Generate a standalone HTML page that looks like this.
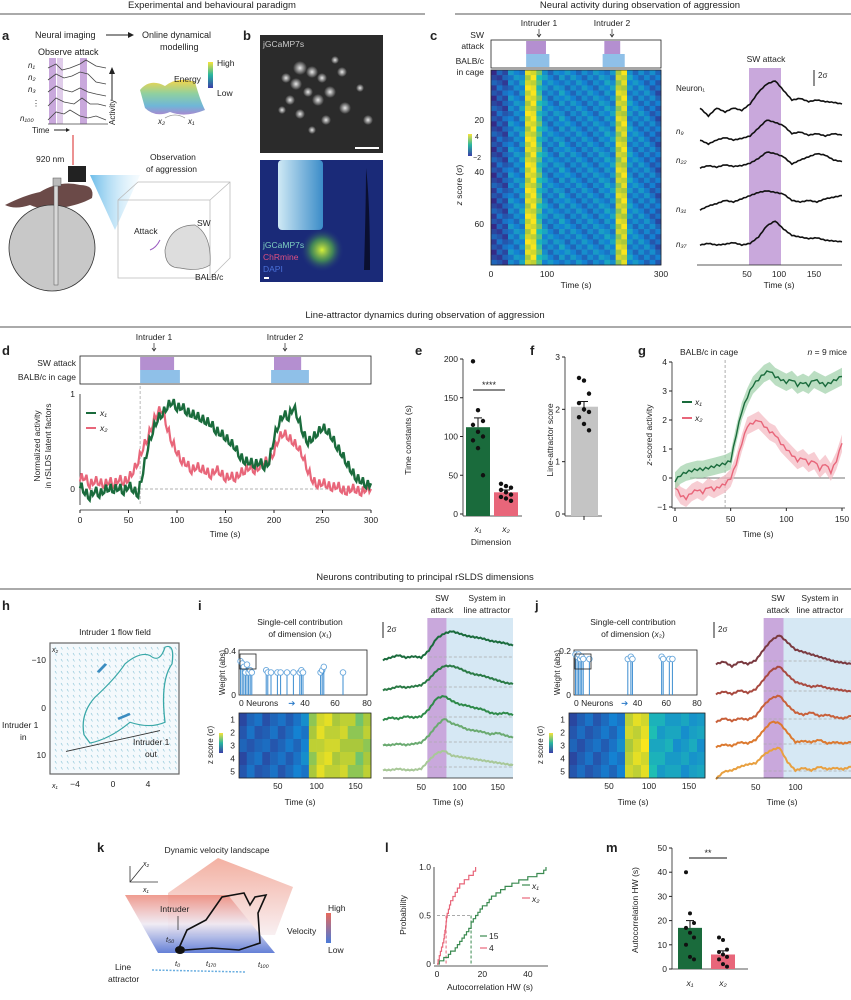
<!DOCTYPE html>
<html><head><meta charset="utf-8"><style>
html,body{margin:0;padding:0;background:#fff}
svg{display:block;font-family:"Liberation Sans",sans-serif}
text{fill:#222}
</style></head><body>
<svg id="fig" width="851" height="1000" viewBox="0 0 851 1000" xmlns="http://www.w3.org/2000/svg">
<defs>
<linearGradient id="energy" x1="0" y1="0" x2="0" y2="1"><stop offset="0" stop-color="#f5d548"/><stop offset="0.4" stop-color="#8fd0a0"/><stop offset="0.75" stop-color="#6fb6d8"/><stop offset="1" stop-color="#a78ad0"/></linearGradient>
<linearGradient id="cbar" x1="0" y1="0" x2="0" y2="1"><stop offset="0" stop-color="#f7e33a"/><stop offset="0.5" stop-color="#27b5a0"/><stop offset="1" stop-color="#3b3ea8"/></linearGradient>
<linearGradient id="probe" x1="0" y1="0" x2="1" y2="0"><stop offset="0" stop-color="#cfe9f5"/><stop offset="1" stop-color="#3b8cc8"/></linearGradient>
<linearGradient id="vel" x1="0" y1="0" x2="0" y2="1"><stop offset="0" stop-color="#f2a898"/><stop offset="1" stop-color="#f8eef0"/></linearGradient>
<linearGradient id="vel2" x1="0" y1="0" x2="0" y2="1"><stop offset="0" stop-color="#ec8a7c"/><stop offset="0.5" stop-color="#eee8f2"/><stop offset="1" stop-color="#4a6ad0"/></linearGradient>
<linearGradient id="vel3" x1="0" y1="0" x2="0" y2="1"><stop offset="0" stop-color="#e76a5c"/><stop offset="1" stop-color="#4a7ad8"/></linearGradient>
<radialGradient id="cell"><stop offset="0" stop-color="#e8e8e8"/><stop offset="1" stop-color="#e8e8e8" stop-opacity="0"/></radialGradient>
<radialGradient id="glow"><stop offset="0" stop-color="#d6f03a"/><stop offset="0.5" stop-color="#4a9a50" stop-opacity="0.8"/><stop offset="1" stop-color="#1e2a80" stop-opacity="0"/></radialGradient>
<linearGradient id="beam" x1="0" y1="0" x2="1" y2="0"><stop offset="0" stop-color="#2fa0e0"/><stop offset="1" stop-color="#bfe6fa" stop-opacity="0.2"/></linearGradient>
</defs>

<!-- Section headers -->
<text x="212" y="8" font-size="9.5" text-anchor="middle">Experimental and behavioural paradigm</text>
<line x1="0" y1="14" x2="425" y2="14" stroke="#555" stroke-width="1"/>
<text x="640" y="8" font-size="9.5" text-anchor="middle">Neural activity during observation of aggression</text>
<line x1="455" y1="14" x2="851" y2="14" stroke="#555" stroke-width="1"/>
<text x="425" y="318" font-size="9.5" text-anchor="middle">Line-attractor dynamics during observation of aggression</text>
<line x1="0" y1="327" x2="851" y2="327" stroke="#555" stroke-width="1"/>
<text x="425" y="580" font-size="9.5" text-anchor="middle">Neurons contributing to principal rSLDS dimensions</text>
<line x1="0" y1="589" x2="851" y2="589" stroke="#555" stroke-width="1"/>

<!-- Panel a -->
<g>
<text x="2" y="40" font-size="13" font-weight="bold" fill="#000">a</text>
<text x="35" y="38" font-size="9">Neural imaging</text>
<line x1="106" y1="35" x2="128" y2="35" stroke="#222"/><path d="M128 32 L134 35 L128 38Z" fill="#222"/>
<text x="142" y="38" font-size="9">Online dynamical</text>
<text x="160" y="50" font-size="9">modelling</text>
<text x="38" y="55" font-size="9">Observe attack</text>
<rect x="49" y="58" width="7" height="66" fill="#c9a8dc"/><rect x="57" y="58" width="6" height="66" fill="#e0cdea"/><rect x="80" y="58" width="7" height="66" fill="#c9a8dc"/>
<g fill="none" stroke="#444" stroke-width="0.8">
<path d="M48 68 L56 64 62 70 70 68 80 64 86 60 96 66 106 68"/>
<path d="M48 80 L56 74 64 78 72 76 80 72 88 74 96 82 106 84"/>
<path d="M48 92 L56 86 64 90 72 92 80 88 88 92 96 94 106 96"/>
<path d="M48 106 L56 98 64 102 74 104 82 98 90 104 98 104 106 106"/>
<path d="M48 120 L56 112 64 114 70 110 80 116 88 118 96 116 106 120"/>
<path d="M48 124 L108 124"/>
</g>
<text x="28" y="68" font-size="8" font-style="italic">n₁</text>
<text x="28" y="80" font-size="8" font-style="italic">n₂</text>
<text x="28" y="92" font-size="8" font-style="italic">n₃</text>
<text x="32" y="106" font-size="8">⋮</text>
<text x="20" y="121" font-size="8" font-style="italic">n₁₀₀</text>
<text x="32" y="133" font-size="8">Time</text><line x1="54" y1="130" x2="66" y2="130" stroke="#222"/><path d="M66 128 L70 130 L66 132Z" fill="#222"/>
<text x="115" y="125" font-size="8" transform="rotate(-90 115 125)">Activity</text>
<line x1="112" y1="100" x2="112" y2="72" stroke="#222"/><path d="M109 74 L112 67 L115 74Z" fill="#222"/>
<path d="M140 90 Q150 78 165 86 Q178 76 195 82 Q200 100 205 110 Q185 118 170 112 Q155 118 145 108 Z" fill="url(#energy)"/>
<text x="174" y="82" font-size="8.5">Energy</text>
<rect x="208" y="62" width="5" height="26" fill="url(#cbar)"/>
<text x="217" y="66" font-size="8.5">High</text><text x="217" y="96" font-size="8.5">Low</text>
<text x="158" y="124" font-size="8" font-style="italic">x₂</text><text x="188" y="124" font-size="8" font-style="italic">x₁</text>
<path d="M165 118 Q175 112 185 118" fill="none" stroke="#999" stroke-width="0.8"/>
<line x1="73" y1="135" x2="73" y2="165" stroke="#e04a4a" stroke-width="1.2"/>
<text x="36" y="162" font-size="8.5">920 nm</text>
<rect x="68" y="166" width="18" height="16" fill="#222"/>
<path d="M90 175 L140 175 L115 230 Z" fill="url(#beam)" opacity="0.7"/>
<path d="M5 205 Q25 195 40 192 Q60 180 80 185 Q95 185 92 198 Q80 205 60 208 Q40 210 30 205 Q15 210 5 205Z" fill="#6b4a48"/>
<circle cx="52" cy="248" r="43" fill="#c8c8c8" stroke="#333" stroke-width="0.8"/>
<rect x="54" y="180" width="4" height="105" fill="#d8d8d8" stroke="#555" stroke-width="0.5"/>
<rect x="53" y="178" width="8" height="8" fill="#bbb" stroke="#555" stroke-width="0.5"/>
<text x="150" y="160" font-size="8.5">Observation</text><text x="146" y="172" font-size="8.5">of aggression</text>
<g fill="none" stroke="#bbb" stroke-width="0.8">
<path d="M118 200 L138 182 L230 182 L230 258 L210 278 L118 278 Z M118 200 L210 200 L230 182 M210 200 L210 278"/>
</g>
<path d="M165 250 Q170 225 195 225 Q212 235 210 265 Q200 272 180 268 Q165 268 165 250Z" fill="#ddd" stroke="#777" stroke-width="0.7"/>
<text x="197" y="226" font-size="8.5">SW</text><text x="134" y="234" font-size="8.5">Attack</text>
<path d="M160 240 Q156 248 150 250" fill="none" stroke="#9a5ac0" stroke-width="1"/>
<text x="195" y="280" font-size="8.5">BALB/c</text>
</g>

<!-- Panel b -->
<g>
<text x="243" y="40" font-size="13" font-weight="bold" fill="#000">b</text>
<rect x="260" y="35" width="123" height="118" fill="#2b2b2b"/>
<g fill="url(#cell)">
<circle cx="300" cy="68" r="7"/><circle cx="312" cy="72" r="6"/><circle cx="296" cy="84" r="6"/><circle cx="322" cy="78" r="5"/><circle cx="286" cy="78" r="5"/><circle cx="330" cy="92" r="6"/><circle cx="308" cy="92" r="5"/><circle cx="342" cy="72" r="5"/><circle cx="318" cy="100" r="6"/><circle cx="290" cy="100" r="5"/><circle cx="345" cy="108" r="6"/><circle cx="360" cy="88" r="4"/><circle cx="300" cy="114" r="5"/><circle cx="326" cy="120" r="5"/><circle cx="282" cy="110" r="4"/><circle cx="335" cy="60" r="4"/><circle cx="368" cy="120" r="5"/><circle cx="312" cy="130" r="4"/>
</g>
<text x="263" y="47" font-size="8.5" style="fill:#ccc">jGCaMP7s</text>
<rect x="355" y="147" width="24" height="2" fill="#fff"/>
<rect x="260" y="160" width="123" height="122" fill="#1a2a78"/>
<rect x="278" y="160" width="45" height="70" rx="4" fill="url(#probe)"/>
<circle cx="322" cy="250" r="22" fill="url(#glow)"/>
<path d="M366 168 Q370 200 370 270 L364 270 Q366 200 366 168Z" fill="#0a0f30"/>
<text x="263" y="248" font-size="8.5" style="fill:#7fd0c0">jGCaMP7s</text>
<text x="263" y="260" font-size="8.5" style="fill:#e05080">ChRmine</text>
<text x="263" y="272" font-size="8.5" style="fill:#4a70d8">DAPI</text>
<rect x="264" y="277" width="5" height="2" fill="#fff"/>
</g>

<!-- Panel c -->
<g id="panelC">
<text x="430" y="40" font-size="13" font-weight="bold" fill="#000">c</text>
<text x="484" y="38" font-size="8.5" text-anchor="end">SW</text>
<text x="484" y="49" font-size="8.5" text-anchor="end">attack</text>
<text x="484" y="64" font-size="8.5" text-anchor="end">BALB/c</text>
<text x="484" y="75" font-size="8.5" text-anchor="end">in cage</text>
<rect x="491" y="40" width="170" height="28" fill="none" stroke="#222" stroke-width="0.8"/>
<text x="539" y="26" font-size="8.5" text-anchor="middle">Intruder 1</text>
<text x="612" y="26" font-size="8.5" text-anchor="middle">Intruder 2</text>
<path d="M539 29 L539 36 M537 34 L539 37 L541 34 M612 29 L612 36 M610 34 L612 37 L614 34" stroke="#222" fill="none" stroke-width="0.7"/>
<g id="cEvents"></g>
<g id="cHeat"></g>
<text x="484" y="123" font-size="8.5" text-anchor="end">20</text>
<text x="484" y="175" font-size="8.5" text-anchor="end">40</text>
<text x="484" y="227" font-size="8.5" text-anchor="end">60</text>
<rect x="468" y="134" width="4" height="22" fill="url(#cbar)"/>
<text x="475" y="139" font-size="7">4</text><text x="473" y="160" font-size="7">−2</text>
<text x="462" y="185" font-size="8.5" transform="rotate(-90 462 185)" text-anchor="middle"><tspan font-style="italic">z</tspan> score (σ)</text>
<text x="491" y="277" font-size="8.5" text-anchor="middle">0</text>
<text x="547" y="277" font-size="8.5" text-anchor="middle">100</text>
<text x="661" y="277" font-size="8.5" text-anchor="middle">300</text>
<text x="576" y="288" font-size="8.5" text-anchor="middle">Time (s)</text>
<rect x="749" y="68" width="32" height="197" fill="#c9a8dc"/>
<text x="766" y="62" font-size="8.5" text-anchor="middle">SW attack</text>
<line x1="814" y1="70" x2="814" y2="86" stroke="#222"/><text x="818" y="78" font-size="8">2σ</text>
<g id="cTraces"></g>
<text x="676" y="91" font-size="8">Neuron₁</text>
<text x="676" y="134" font-size="8" font-style="italic">n₉</text>
<text x="676" y="163" font-size="8" font-style="italic">n₂₂</text>
<text x="676" y="212" font-size="8" font-style="italic">n₃₁</text>
<text x="676" y="247" font-size="8" font-style="italic">n₃₇</text>
<line x1="697" y1="265" x2="842" y2="265" stroke="#222" stroke-width="0.8"/>
<text x="747" y="277" font-size="8.5" text-anchor="middle">50</text>
<text x="779" y="277" font-size="8.5" text-anchor="middle">100</text>
<text x="814" y="277" font-size="8.5" text-anchor="middle">150</text>
<text x="779" y="288" font-size="8.5" text-anchor="middle">Time (s)</text>
</g>

<!-- Panel d -->
<g id="panelD">
<text x="2" y="355" font-size="13" font-weight="bold" fill="#000">d</text>
<text x="154" y="340" font-size="8.5" text-anchor="middle">Intruder 1</text>
<text x="285" y="340" font-size="8.5" text-anchor="middle">Intruder 2</text>
<path d="M154 343 L154 350 M152 348 L154 351 L156 348 M285 343 L285 350 M283 348 L285 351 L287 348" stroke="#222" fill="none" stroke-width="0.7"/>
<text x="76" y="366" font-size="8.5" text-anchor="end">SW attack</text>
<text x="76" y="380" font-size="8.5" text-anchor="end">BALB/c in cage</text>
<rect x="80" y="356" width="291" height="28" fill="none" stroke="#222" stroke-width="0.8"/>
<g id="dEvents"></g>
<g id="dPlot"></g>
<text x="40" y="446" font-size="8.5" text-anchor="middle" transform="rotate(-90 40 446)">Normalized activity</text>
<text x="51" y="446" font-size="8.5" text-anchor="middle" transform="rotate(-90 51 446)">in rSLDS latent factors</text>
<text x="225" y="537" font-size="8.5" text-anchor="middle">Time (s)</text>
<line x1="86" y1="413" x2="96" y2="413" stroke="#1a6b3c" stroke-width="2"/><text x="100" y="416" font-size="8.5" font-style="italic">x₁</text>
<line x1="86" y1="428" x2="96" y2="428" stroke="#e8667a" stroke-width="2"/><text x="100" y="431" font-size="8.5" font-style="italic">x₂</text>
</g>

<!-- Panel e -->
<g id="panelE">
<text x="415" y="355" font-size="13" font-weight="bold" fill="#000">e</text>
<text x="411" y="440" font-size="8.5" text-anchor="middle" transform="rotate(-90 411 440)">Time constants (s)</text>
<text x="491" y="545" font-size="8.5" text-anchor="middle">Dimension</text>
<line x1="473" y1="390" x2="505" y2="390" stroke="#888" stroke-width="2"/>
<text x="489" y="388" font-size="9" text-anchor="middle">****</text>
</g>

<!-- Panel f -->
<g id="panelF">
<text x="530" y="355" font-size="13" font-weight="bold" fill="#000">f</text>
<text x="553" y="440" font-size="8.5" text-anchor="middle" transform="rotate(-90 553 440)">Line-attractor score</text>
</g>

<!-- Panel g -->
<g id="panelG">
<text x="638" y="355" font-size="13" font-weight="bold" fill="#000">g</text>
<text x="680" y="355" font-size="8.5">BALB/c in cage</text>
<text x="847" y="355" font-size="8.5" text-anchor="end"><tspan font-style="italic">n</tspan> = 9 mice</text>
<text x="652" y="435" font-size="8.5" text-anchor="middle" transform="rotate(-90 652 435)"><tspan font-style="italic">z</tspan>-scored activity</text>
<text x="758" y="537" font-size="8.5" text-anchor="middle">Time (s)</text>
<line x1="682" y1="402" x2="692" y2="402" stroke="#1a6b3c" stroke-width="2"/><text x="695" y="405" font-size="8.5" font-style="italic">x₁</text>
<line x1="682" y1="418" x2="692" y2="418" stroke="#e8667a" stroke-width="2"/><text x="695" y="421" font-size="8.5" font-style="italic">x₂</text>
</g>

<!-- Panel h -->
<g id="panelH">
<text x="2" y="610" font-size="13" font-weight="bold" fill="#000">h</text>
<text x="115" y="635" font-size="8.5" text-anchor="middle">Intruder 1 flow field</text>
<rect x="50" y="643" width="129" height="131" fill="#f4f9fc" stroke="#666" stroke-width="1.2"/>
<g id="hField"></g>
<g transform="translate(0,643) scale(1,0.834) translate(0,-675)">
<path d="M84 785 Q80 760 95 740 Q115 718 125 700 Q140 685 150 690 Q160 700 165 680 Q175 675 172 700 Q160 720 165 770 Q150 778 130 770 Q110 790 90 795 Z" fill="none" stroke="#3aa8a8" stroke-width="1.3"/>
<path d="M66 805 L160 780" stroke="#333" stroke-width="1" fill="none"/>
<path d="M98 710 L106 700" stroke="#3b8cc0" stroke-width="3"/><path d="M130 760 L118 766" stroke="#3b8cc0" stroke-width="3"/>
</g>
<text x="46" y="663" font-size="8.5" text-anchor="end">−10</text>
<text x="46" y="711" font-size="8.5" text-anchor="end">0</text>
<text x="46" y="758" font-size="8.5" text-anchor="end">10</text>
<text x="52" y="652" font-size="7" font-style="italic">x₂</text>
<text x="2" y="728" font-size="8.5">Intruder 1</text><text x="20" y="740" font-size="8.5">in</text>
<text x="133" y="745" font-size="8.5">Intruder 1</text><text x="145" y="757" font-size="8.5">out</text>
<text x="52" y="788" font-size="7" font-style="italic">x₁</text>
<text x="75" y="787" font-size="8.5" text-anchor="middle">−4</text>
<text x="113" y="787" font-size="8.5" text-anchor="middle">0</text>
<text x="148" y="787" font-size="8.5" text-anchor="middle">4</text>
</g>

<!-- Panel i -->
<g id="panelI">
<text x="198" y="610" font-size="13" font-weight="bold" fill="#000">i</text>
<text x="300" y="625" font-size="8.5" text-anchor="middle">Single-cell contribution</text>
<text x="300" y="637" font-size="8.5" text-anchor="middle">of dimension (<tspan font-style="italic">x</tspan>₁)</text>
<g id="iStem"></g>
<g id="iHeat"></g>
<text x="300" y="805" font-size="8.5" text-anchor="middle">Time (s)</text>
<g id="iTraces"></g>
<text x="442" y="601" font-size="8.5" text-anchor="middle">SW</text><text x="442" y="613" font-size="8.5" text-anchor="middle">attack</text>
<text x="487" y="601" font-size="8.5" text-anchor="middle">System in</text><text x="487" y="613" font-size="8.5" text-anchor="middle">line attractor</text>
<line x1="383" y1="622" x2="383" y2="638" stroke="#222"/><text x="387" y="632" font-size="8">2σ</text>
<text x="448" y="805" font-size="8.5" text-anchor="middle">Time (s)</text>
</g>

<!-- Panel j -->
<g id="panelJ">
<text x="535" y="610" font-size="13" font-weight="bold" fill="#000">j</text>
<text x="633" y="625" font-size="8.5" text-anchor="middle">Single-cell contribution</text>
<text x="633" y="637" font-size="8.5" text-anchor="middle">of dimension (<tspan font-style="italic">x</tspan>₂)</text>
<g id="jStem"></g>
<g id="jHeat"></g>
<text x="633" y="805" font-size="8.5" text-anchor="middle">Time (s)</text>
<g id="jTraces"></g>
<text x="778" y="601" font-size="8.5" text-anchor="middle">SW</text><text x="778" y="613" font-size="8.5" text-anchor="middle">attack</text>
<text x="820" y="601" font-size="8.5" text-anchor="middle">System in</text><text x="820" y="613" font-size="8.5" text-anchor="middle">line attractor</text>
<line x1="714" y1="622" x2="714" y2="638" stroke="#222"/><text x="718" y="632" font-size="8">2σ</text>
<text x="782" y="805" font-size="8.5" text-anchor="middle">Time (s)</text>
</g>

<!-- Panel k -->
<g>
<text x="97" y="852" font-size="13" font-weight="bold" fill="#000">k</text>
<text x="217" y="853" font-size="8.5" text-anchor="middle">Dynamic velocity landscape</text>
<path d="M168 893 L218 858 L293 887 L275 935 L168 935 Z" fill="url(#vel)" opacity="0.9"/>
<path d="M125 895 L228 895 L275 953 L158 953 Z" fill="url(#vel2)" opacity="0.85"/>
<path d="M130 866 L130 882 L158 882 M130 882 L143 866" fill="none" stroke="#333" stroke-width="0.8"/>
<text x="143" y="866" font-size="7" font-style="italic">x₂</text><text x="143" y="892" font-size="7" font-style="italic">x₁</text>
<text x="160" y="912" font-size="8.5">Intruder</text>
<line x1="178" y1="916" x2="178" y2="930" stroke="#333" stroke-width="0.8"/>
<path d="M179 948 L187 930 L206 920 L222 897 L244 893 L250 905 L255 897 L266 895 L258 913 L260 943 L239 950 L212 948 L185 950" fill="none" stroke="#111" stroke-width="1.6"/>
<ellipse cx="180" cy="950" rx="5" ry="4" fill="#111"/>
<text x="166" y="942" font-size="7.5" font-style="italic">t₅₀</text>
<text x="175" y="966" font-size="7.5" font-style="italic">t₀</text>
<text x="206" y="966" font-size="7.5" font-style="italic">t₁₇₀</text>
<text x="258" y="967" font-size="7.5" font-style="italic">t₁₀₀</text>
<text x="115" y="970" font-size="8.5">Line</text><text x="108" y="982" font-size="8.5">attractor</text>
<line x1="152" y1="970" x2="245" y2="972" stroke="#6aaee0" stroke-dasharray="2,1.5" stroke-width="1.5"/>
<text x="287" y="934" font-size="8.5">Velocity</text>
<rect x="326" y="913" width="5" height="30" fill="url(#vel3)"/>
<text x="328" y="911" font-size="8.5">High</text><text x="328" y="953" font-size="8.5">Low</text>
</g>

<!-- Panel l -->
<g id="panelL">
<text x="385" y="852" font-size="13" font-weight="bold" fill="#000">l</text>
<text x="406" y="915" font-size="8.5" text-anchor="middle" transform="rotate(-90 406 915)">Probability</text>
<text x="490" y="990" font-size="8.5" text-anchor="middle">Autocorrelation HW (s)</text>
<line x1="522" y1="885" x2="530" y2="885" stroke="#3a8a50" stroke-width="1.2"/><text x="532" y="889" font-size="8.5" font-style="italic">x₁</text>
<line x1="522" y1="898" x2="530" y2="898" stroke="#e8667a" stroke-width="1.2"/><text x="532" y="902" font-size="8.5" font-style="italic">x₂</text>
<line x1="480" y1="936" x2="487" y2="936" stroke="#3a8a50" stroke-width="1.2"/><text x="489" y="939" font-size="8.5">15</text>
<line x1="480" y1="948" x2="487" y2="948" stroke="#e8667a" stroke-width="1.2"/><text x="489" y="951" font-size="8.5">4</text>
</g>

<!-- Panel m -->
<g id="panelM">
<text x="606" y="852" font-size="13" font-weight="bold" fill="#000">m</text>
<text x="638" y="910" font-size="8.5" text-anchor="middle" transform="rotate(-90 638 910)">Autocorrelation HW (s)</text>
<line x1="689" y1="858" x2="727" y2="858" stroke="#888" stroke-width="2"/>
<text x="708" y="856" font-size="9" text-anchor="middle">**</text>
</g>
</svg>

<script>
// ---------- data ----------
const dTimes = [0,5,10,15,20,25,30,35,40,45,50,55,60,65,70,75,80,85,90,95,100,105,110,115,120,125,130,135,140,145,150,155,160,165,170,175,180,185,190,195,200,205,210,215,220,225,230,235,240,245,250,255,260,265,270,275,280,285,290,295,300];
const dX1 = [0.05,-0.02,-0.08,0,-0.05,0,0.02,0,0.03,-0.02,0.05,0,-0.05,0.2,0.45,0.62,0.75,0.8,0.88,0.93,0.86,0.88,0.82,0.8,0.78,0.75,0.72,0.7,0.62,0.6,0.55,0.5,0.45,0.35,0.3,0.3,0.26,0.3,0.24,0.3,0.55,0.7,0.8,0.76,0.88,0.75,0.6,0.5,0.55,0.6,0.66,0.62,0.55,0.45,0.38,0.28,0.2,0.12,0.1,0.05,0.06];
const dX2 = [0.12,0.14,0.05,0.1,0.08,0.05,0.1,0.05,0.12,0.08,0.12,0.2,0.3,0.45,0.55,0.7,0.82,0.85,0.65,0.5,0.4,0.3,0.28,0.2,0.25,0.22,0.2,0.15,0.22,0.18,0.12,0.15,0.12,0.18,0.2,0.25,0.2,0.25,0.3,0.3,0.4,0.55,0.6,0.55,0.5,0.45,0.35,0.2,0.1,0.05,0.08,0.05,0.02,0.05,0,-0.02,0.02,0,-0.03,0.02,0];
const dTicks = [0,50,100,150,200,250,300];
const intruderSW = [[62,97],[200,228]];
const intruderBalb = [[62,103],[197,236]];
const eX1pts = [197,134,120,115,106,100,95,85,50];
const eX2pts = [39,36,34,31,28,25,22,20,17];
const eMeans = [112,28];
const eSem = [12,3];
const eTicks = [0,50,100,150,200];
const fPts = [2.6,2.55,2.3,2.12,2.0,1.95,1.85,1.72,1.6];
const fMean = 2.05, fSem = 0.1;
const fTicks = [0,1,2,3];
const gTimes = [0,5,10,15,20,25,30,35,40,45,50,55,60,65,70,75,80,85,90,95,100,105,110,115,120,125,130,135,140,145,150];
const gX1 = [-0.1,0.1,0.2,0.25,0.3,0.3,0.35,0.4,0.45,0.5,0.6,1.5,2.3,2.8,3.2,3.4,3.6,3.7,3.5,3.4,3.3,3.4,3.2,3.3,3.2,3.4,3.3,3.2,3.3,3.4,3.5];
const gX2 = [-0.3,-0.6,-0.7,-0.5,-0.4,-0.5,-0.3,-0.4,-0.3,-0.2,0,0.5,1.2,1.8,1.9,2.0,1.8,1.6,1.5,1.2,1.0,0.8,0.6,0.7,0.5,0.6,0.3,0.5,0.2,0.6,1.2];
const gTicksY = [-1,0,1,2,3,4];
const gTicksX = [0,50,100,150];
const iWeights = [[1,0.3],[2,0.28],[3,0.25],[4,0.2],[5,0.27],[6,0.2],[7,0.22],[8,0.2],[17,0.22],[18,0.2],[20,0.2],[24,0.2],[26,0.2],[30,0.2],[34,0.2],[38,0.2],[39,0.22],[40,0.2],[51,0.2],[52,0.22],[53,0.25],[65,0.2]];
const jWeights = [[1,0.18],[2,0.17],[3,0.18],[4,0.16],[5,0.17],[6,0.16],[10,0.16],[35,0.16],[37,0.17],[38,0.16],[57,0.17],[58,0.16],[62,0.16],[64,0.16]];
const lX1 = [1,3,5,6,8,9,10,11,12,13,14,15,15,16,17,18,19,20,22,23,24,26,28,30,33,36,40,44,47,48];
const lX2 = [0.5,1,1.5,2,2.5,3,3.2,3.5,3.8,4,4.2,4.5,5,5.5,6,7,8,9,10,12,14,16,17];
const mX1pts = [40,23,19,17,15,13,10,5,4];
const mX2pts = [13,12,8,7,6,5,4,2,1];
const mMeans = [17,6];
const mSem = [3,1.5];
const mTicks = [0,10,20,30,40,50];
const traceT = [0,10,20,30,40,50,60,70,80,90,100,110,120,130,140,150,160,170];
const cShapes = [
 [0,-1,0,-0.5,0,-0.3,0.5,2,3,3.4,2.2,1.0,1.2,0.8,1.0,0.8,0.7,0.5],
 [0,-0.5,0,0.3,0,0.2,0.5,1.5,2.5,2.2,1.8,0.8,1.0,0.6,0.8,0.5,0.8,0.6],
 [0,0.3,0.1,0.4,0.2,0.3,0.6,1.2,2.0,1.8,1.4,0.5,1.0,1.4,1.8,1.6,1.0,0.8],
 [0,0.5,0.8,1.2,1.0,1.4,1.8,2.2,2.4,2.2,2.0,1.2,1.0,1.2,1.0,1.4,1.6,1.8],
 [0,0.2,0,0.1,0.3,0,0.2,1.0,2.4,3.0,2.0,1.2,1.0,0.8,0.9,0.6,0.5,0.4]
];
const iShapes = [
 [0,0.2,0.4,0.2,0.3,0.2,0.8,1.8,2.2,2.4,2.2,2.0,1.9,1.8,1.6,1.5,1.4,1.2],
 [0,0.1,0.3,0.2,0.3,0.4,0.9,1.6,2.0,2.0,1.8,1.5,1.3,1.2,1.0,0.8,0.6,0.5],
 [0,0.2,0.1,0.3,0.2,0.3,0.9,1.8,2.0,1.6,1.3,1.2,1.0,0.9,0.6,0.5,0.6,0.4],
 [0,0,0.1,0,0.1,0.2,0.8,1.6,2.2,1.8,1.6,1.3,1.2,1.1,0.9,1.0,0.8,0.6],
 [0,0,0.1,0,0,0.1,0.8,1.4,1.6,1.2,1.1,1.0,0.9,0.8,0.7,0.6,0.5,0.4]
];
const jShapes = [
 [0,0.2,-0.2,0.2,0,0.3,1.2,2.0,2.4,1.8,1.2,1.0,0.8,0.6,0.4,0.2,0.1,0],
 [0,0.2,0,0.3,0.1,0.4,1.2,2.0,2.3,1.6,1.0,0.8,0.6,0.7,0.5,0.4,0.3,0.2],
 [0,0.3,0.1,0.3,0.2,0.5,1.4,2.0,2.2,1.4,0.8,0.6,0.8,0.5,0.6,0.4,0.3,0.5],
 [0,0.2,0.1,0.4,0.3,0.6,1.4,2.1,2.0,1.2,0.4,0.5,0.4,0.6,0.3,0.4,0.3,0.4],
 [-0.4,0.2,0.3,0.6,0.8,0.9,1.6,2.0,2.2,1.0,0.3,0.5,0.3,0.6,0.4,0.5,0.4,0.6]
];
const cHeatCols = [0.1,0.15,0.15,0.3,0.3,0.35,0.9,0.95,0.6,0.35,0.3,0.3,0.35,0.3,0.3,0.3,0.3,0.3,0.3,0.32,0.35,0.35,0.85,0.9,0.35,0.3,0.3,0.28,0.25,0.2];
const iHeatCols = [0.15,0.2,0.2,0.18,0.2,0.2,0.22,0.25,0.3,0.8,0.9,0.9,0.85,0.85,0.8,0.75,0.8];
const jHeatCols = [0.15,0.18,0.2,0.2,0.22,0.25,0.3,0.85,0.9,0.95,0.5,0.45,0.45,0.4,0.4,0.42,0.4];

// ---------- helpers ----------
const NS = "http://www.w3.org/2000/svg";
function mk(parent, tag, attrs){ const e=document.createElementNS(NS,tag); for(const k in attrs) e.setAttribute(k,attrs[k]); parent.appendChild(e); return e; }
function txt(parent,x,y,s,anchor){ const t=mk(parent,'text',{x:x,y:y,'font-size':8.5,'text-anchor':anchor||'middle'}); t.textContent=s; return t; }
function lin(d0,d1,r0,r1){ return v => r0+(v-d0)/(d1-d0)*(r1-r0); }
function cmap(v){
  const stops=[[0,[53,42,135]],[0.3,[20,130,210]],[0.55,[30,190,180]],[0.8,[170,200,60]],[1,[249,230,30]]];
  v=Math.max(0,Math.min(1,v));
  for(let i=1;i<stops.length;i++){ if(v<=stops[i][0]){ const a=stops[i-1],b=stops[i],f=(v-a[0])/(b[0]-a[0]); const c=a[1].map((x,j)=>Math.round(x+(b[1][j]-x)*f)); return `rgb(${c})`; } }
  return 'rgb(249,230,30)';
}
function pathFrom(xs,ys,sx,sy){ return xs.map((x,i)=>(i?'L':'M')+sx(x).toFixed(1)+' '+sy(ys[i]).toFixed(1)).join(' '); }
function wiggle(xs,ys,n){
  const ox=[],oy=[];
  for(let i=0;i<xs.length-1;i++){ for(let k=0;k<n;k++){ const f=k/n; ox.push(xs[i]+(xs[i+1]-xs[i])*f); oy.push(ys[i]+(ys[i+1]-ys[i])*f + ((k%2)?0.04:-0.04)); } }
  ox.push(xs[xs.length-1]); oy.push(ys[ys.length-1]); return [ox,oy];
}

// ---------- panel c ----------
(function(){
  const g=document.getElementById('cEvents');
  const sx=lin(0,300,491,661);
  intruderSW.forEach(([a,b])=>{ const r=mk(g,'rect',{x:sx(a),y:41,width:sx(b)-sx(a),height:13,fill:'#b48fd0'});
    
     });
  intruderBalb.forEach(([a,b])=>{ const r=mk(g,'rect',{x:sx(a),y:54,width:sx(b)-sx(a),height:13,fill:'#8fc0e8'});
    
     });
  const h=document.getElementById('cHeat');
  const rows=38, cw=170/cHeatCols.length, rh=195/rows;
  for(let r=0;r<rows;r++) cHeatCols.forEach((v,c)=>{
    const jitter=((r*7+c*3)%5-2)*0.05;
    const cell=mk(h,'rect',{x:(491+c*cw).toFixed(2),y:(70+r*rh).toFixed(2),width:cw+0.3,height:rh+0.3,fill:cmap(v+jitter)});
    
    
  });
  mk(h,'rect',{x:491,y:70,width:170,height:195,fill:'none',stroke:'#222','stroke-width':0.8});
  const tg=document.getElementById('cTraces');
  const tx=lin(0,170,700,842);
  const bases=[108,140,168,210,245];
  cShapes.forEach((s,i)=>{ const [ox,oy]=wiggle(traceT,s,4);
    const p=mk(tg,'path',{d:pathFrom(ox,oy,tx,v=>bases[i]-v*8),fill:'none',stroke:'#111','stroke-width':1.6});
    
     });
})();

// ---------- panel d ----------
(function(){
  const sx=lin(0,300,80,371), sy=lin(0,1,489,394);
  const ev=document.getElementById('dEvents');
  intruderSW.forEach(([a,b])=>{ const r=mk(ev,'rect',{x:sx(a),y:357,width:sx(b)-sx(a),height:13,fill:'#b48fd0'});
    
     });
  intruderBalb.forEach(([a,b])=>{ const r=mk(ev,'rect',{x:sx(a),y:370,width:sx(b)-sx(a),height:13,fill:'#8fc0e8'});
    
     });
  const g=document.getElementById('dPlot');
  mk(g,'line',{x1:80,y1:394,x2:80,y2:505,stroke:'#222','stroke-width':0.8});
  mk(g,'line',{x1:80,y1:510,x2:371,y2:510,stroke:'#222','stroke-width':0.8});
  mk(g,'line',{x1:80,y1:sy(0),x2:371,y2:sy(0),stroke:'#999','stroke-dasharray':'3,2','stroke-width':0.8});
  mk(g,'line',{x1:sx(62),y1:386,x2:sx(62),y2:505,stroke:'#aaa','stroke-dasharray':'3,2','stroke-width':0.8});
  txt(g,75,397,'1','end'); txt(g,75,492,'0','end');
  dTicks.forEach(t=>{ mk(g,'line',{x1:sx(t),y1:510,x2:sx(t),y2:513,stroke:'#222'}); txt(g,sx(t),523,String(t)); });
  let [a,b]=wiggle(dTimes,dX2,3);
  const p2=mk(g,'path',{d:pathFrom(a,b,sx,sy),fill:'none',stroke:'#e8667a','stroke-width':2.2});
  
  
  [a,b]=wiggle(dTimes,dX1,3);
  const p1=mk(g,'path',{d:pathFrom(a,b,sx,sy),fill:'none',stroke:'#1a6b3c','stroke-width':2.4});
  
  
})();

// ---------- panel e ----------
(function(){
  const g=document.getElementById('panelE');
  const sy=lin(0,200,514,359);
  mk(g,'line',{x1:463,y1:359,x2:463,y2:516,stroke:'#222','stroke-width':0.8});
  mk(g,'line',{x1:463,y1:516,x2:522,y2:516,stroke:'#222','stroke-width':0.8});
  eTicks.forEach(t=>{ mk(g,'line',{x1:460,y1:sy(t),x2:463,y2:sy(t),stroke:'#222'}); txt(g,458,sy(t)+3,String(t),'end'); });
  const cols=['#1a6b3c','#e8667a'], xs=[478,506], pts=[eX1pts,eX2pts];
  eMeans.forEach((m,i)=>{
    const r=mk(g,'rect',{x:xs[i]-12,y:sy(m),width:24,height:516-sy(m),fill:cols[i]});
    
    
    mk(g,'line',{x1:xs[i],y1:sy(m+eSem[i]),x2:xs[i],y2:sy(m),stroke:'#111'});
    mk(g,'line',{x1:xs[i]-4,y1:sy(m+eSem[i]),x2:xs[i]+4,y2:sy(m+eSem[i]),stroke:'#111'});
    pts[i].forEach((v,k)=>{ const c=mk(g,'circle',{cx:xs[i]+((k%3)-1)*5,cy:sy(v),r:2.2,fill:'#111'});
      
       });
    const t=mk(g,'text',{x:xs[i],y:532,'font-size':8.5,'text-anchor':'middle','font-style':'italic'}); t.textContent=i?'x₂':'x₁';
  });
})();

// ---------- panel f ----------
(function(){
  const g=document.getElementById('panelF');
  const sy=lin(0,3,514,357);
  mk(g,'line',{x1:565,y1:357,x2:565,y2:516,stroke:'#222','stroke-width':0.8});
  mk(g,'line',{x1:565,y1:516,x2:602,y2:516,stroke:'#222','stroke-width':0.8});
  fTicks.forEach(t=>{ mk(g,'line',{x1:562,y1:sy(t),x2:565,y2:sy(t),stroke:'#222'}); txt(g,560,sy(t)+3,String(t),'end'); });
  const r=mk(g,'rect',{x:571,y:sy(fMean),width:27,height:516-sy(fMean),fill:'#c4c4c4'});
  
  
  mk(g,'line',{x1:584,y1:sy(fMean+fSem),x2:584,y2:sy(fMean-fSem),stroke:'#111'});
  mk(g,'line',{x1:580,y1:sy(fMean+fSem),x2:588,y2:sy(fMean+fSem),stroke:'#111'});
  fPts.forEach((v,k)=>{ const c=mk(g,'circle',{cx:584+((k%3)-1)*5,cy:sy(v),r:2.2,fill:'#111'});
    
     });
  mk(g,'line',{x1:584,y1:516,x2:584,y2:520,stroke:'#222'});
})();

// ---------- panel g ----------
(function(){
  const g=document.getElementById('panelG');
  const sx=lin(0,150,675,842), sy=lin(-1,4,507,362);
  mk(g,'line',{x1:672,y1:362,x2:672,y2:508,stroke:'#222','stroke-width':0.8});
  mk(g,'line',{x1:672,y1:508,x2:845,y2:508,stroke:'#222','stroke-width':0.8});
  mk(g,'line',{x1:690,y1:sy(0),x2:845,y2:sy(0),stroke:'#444','stroke-width':0.8});
  mk(g,'line',{x1:sx(45),y1:360,x2:sx(45),y2:508,stroke:'#999','stroke-dasharray':'3,2','stroke-width':0.8});
  gTicksY.forEach(t=>{ mk(g,'line',{x1:669,y1:sy(t),x2:672,y2:sy(t),stroke:'#222'}); txt(g,667,sy(t)+3,t<0?'−1':String(t),'end'); });
  gTicksX.forEach(t=>{ mk(g,'line',{x1:sx(t),y1:508,x2:sx(t),y2:511,stroke:'#222'}); txt(g,sx(t),522,String(t)); });
  [[gX2,'#e8667a','#f4b8c0','g-line-x2'],[gX1,'#1a6b3c','#9ed0a8','g-line-x1']].forEach(([ys,c,cl,nm])=>{
    const up=gTimes.map((t,i)=>sx(t)+','+sy(ys[i]+0.3)).join(' ');
    const dn=gTimes.slice().reverse().map((t,i)=>sx(t)+','+sy(ys[ys.length-1-i]-0.3)).join(' ');
    const band=mk(g,'polygon',{points:up+' '+dn,fill:cl,opacity:0.7});
    
    
    const [a,b]=wiggle(gTimes,ys,2);
    const p=mk(g,'path',{d:pathFrom(a,b,sx,v=>sy(v)),fill:'none',stroke:c,'stroke-width':1.4});
    
    
  });
})();

// ---------- panel h flow field ----------
(function(){
  const g=document.getElementById('hField');
  for(let x=55;x<178;x+=6) for(let y=647;y<772;y+=6){
    mk(g,'line',{x1:x,y1:y,x2:x+1.5,y2:y+2.5,stroke:'#8fc6d8','stroke-width':0.7});
  }
})();

// ---------- stems + heatmaps + traces for i, j ----------
function stemPanel(id,weights,ymax,x0,x1,yTop,yBot,tickLbl){
  const g=document.getElementById(id);
  const sx=lin(0,80,x0,x1), sy=lin(0,ymax,yBot,yTop);
  mk(g,'rect',{x:x0,y:yTop,width:x1-x0,height:yBot-yTop,fill:'none',stroke:'#222','stroke-width':0.8});
  txt(g,x0-3,yTop+4,tickLbl,'end'); txt(g,x0-3,yBot+3,'0','end');
  const yl=mk(g,'text',{x:x0-14,y:(yTop+yBot)/2,'font-size':8,'text-anchor':'middle',transform:`rotate(-90 ${x0-14} ${(yTop+yBot)/2})`}); yl.textContent='Weight (abs)';
  weights.forEach(([n,w])=>{
    mk(g,'line',{x1:sx(n),y1:yBot,x2:sx(n),y2:sy(w),stroke:'#3b8cd0','stroke-width':1});
    const c=mk(g,'circle',{cx:sx(n),cy:sy(w),r:2.8,fill:'#fff',stroke:'#6aa8dc','stroke-width':0.9});
    
    
  });
  mk(g,'rect',{x:x0+1,y:yTop+4,width:16,height:15,fill:'none',stroke:'#222','stroke-width':0.8});
  txt(g,x0,yBot+11,'0 Neurons','start');
  const ar=mk(g,'text',{x:sx(33),y:yBot+11,'font-size':8.5,'text-anchor':'middle'}); ar.setAttribute('style','fill:#2a7ac8'); ar.textContent='➔';
  txt(g,sx(40)+2,yBot+11,'40'); txt(g,sx(60),yBot+11,'60'); txt(g,sx(80),yBot+11,'80');
}
function heatPanel(id,cols,x0,x1,yTop,yBot){
  const g=document.getElementById(id);
  const cw=(x1-x0)/cols.length, rh=(yBot-yTop)/5;
  for(let r=0;r<5;r++) cols.forEach((v,c)=>{
    const cell=mk(g,'rect',{x:(x0+c*cw).toFixed(2),y:(yTop+r*rh).toFixed(2),width:cw+0.3,height:rh+0.3,fill:cmap(v+((r+c)%3-1)*0.05)});
    
    
  });
  mk(g,'rect',{x:x0,y:yTop,width:x1-x0,height:yBot-yTop,fill:'none',stroke:'#222','stroke-width':0.8});
  for(let r=0;r<5;r++) txt(g,x0-4,yTop+rh*(r+0.5)+3,String(r+1),'end');
  mk(g,'rect',{x:x0-20,y:yTop+20,width:4,height:20,fill:'url(#cbar)'});
  const yl=mk(g,'text',{x:x0-26,y:yTop+32,'font-size':8,'text-anchor':'middle',transform:`rotate(-90 ${x0-26} ${yTop+32})`}); yl.textContent='z score (σ)';
  const sx=lin(0,170,x0,x1);
  [50,100,150].forEach(t=>txt(g,sx(t),yBot+11,String(t)));
}
function tracePanel(id,shapes,colors,x0,x1,bases,purple,blue,ticks){
  const g=document.getElementById(id);
  const sx=lin(0,170,x0,x1);
  mk(g,'rect',{x:sx(purple[0]),y:618,width:sx(purple[1])-sx(purple[0]),height:160,fill:'#c9a8dc'});
  mk(g,'rect',{x:sx(blue[0]),y:618,width:sx(blue[1])-sx(blue[0]),height:160,fill:'#d6e8f4'});
  shapes.forEach((s,i)=>{
    mk(g,'line',{x1:sx(60),y1:bases[i]-3,x2:x1,y2:bases[i]-3,stroke:'#aaa','stroke-dasharray':'3,2','stroke-width':0.7});
    const [a,b]=wiggle(traceT,s,4);
    const p=mk(g,'path',{d:pathFrom(a,b,sx,v=>bases[i]-v*12),fill:'none',stroke:colors[i],'stroke-width':2});
    
    
  });
  mk(g,'line',{x1:x0,y1:778,x2:x1,y2:778,stroke:'#222','stroke-width':0.8});
  ticks.forEach(t=>txt(g,sx(t),790,String(t)));
}
stemPanel('iStem',iWeights,0.4,239,367,650,695,'0.4');
heatPanel('iHeat',iHeatCols,239,371,713,778);
tracePanel('iTraces',iShapes,['#1a6b3c','#2a7a45','#2f8a4a','#6aaa70','#a8c898'],383,513,[660,690,720,745,770],[58,83],[83,170],[50,100,150]);
stemPanel('jStem',jWeights,0.2,574,697,650,695,'0.2');
heatPanel('jHeat',jHeatCols,569,705,713,778);
tracePanel('jTraces',jShapes,['#7a3a40','#a84a40','#c8603a','#dc7a30','#e8a040'],716,851,[664,694,722,747,774],[60,85],[85,170],[50,100]);

// ---------- panel l ----------
(function(){
  const g=document.getElementById('panelL');
  const sx=lin(0,48,437,546), sy=lin(0,1,964,867);
  mk(g,'line',{x1:434,y1:867,x2:434,y2:964,stroke:'#222','stroke-width':0.8});
  mk(g,'line',{x1:434,y1:966,x2:548,y2:966,stroke:'#222','stroke-width':0.8});
  [[0,'0'],[0.5,'0.5'],[1,'1.0']].forEach(([v,s])=>txt(g,431,sy(v)+3,s,'end'));
  [0,20,40].forEach(t=>txt(g,sx(t),977,String(t)));
  mk(g,'line',{x1:437,y1:sy(0.5),x2:sx(15),y2:sy(0.5),stroke:'#aaa','stroke-dasharray':'3,2'});
  mk(g,'line',{x1:sx(15),y1:sy(0.5),x2:sx(15),y2:964,stroke:'#3a8a50','stroke-dasharray':'3,2'});
  mk(g,'line',{x1:sx(4),y1:sy(0.5),x2:sx(4),y2:964,stroke:'#e8667a','stroke-dasharray':'3,2'});
  [[lX1,'#3a8a50','l-cdf-x1'],[lX2,'#e8667a','l-cdf-x2']].forEach(([arr,c,nm])=>{
    let d=`M${sx(0)} ${sy(0)}`;
    arr.forEach((v,i)=>{ d+=` L${sx(v).toFixed(1)} ${sy(i/arr.length).toFixed(1)} L${sx(v).toFixed(1)} ${sy((i+1)/arr.length).toFixed(1)}`; });
    const p=mk(g,'path',{d:d,fill:'none',stroke:c,'stroke-width':1.2});
    
    
  });
})();

// ---------- panel m ----------
(function(){
  const g=document.getElementById('panelM');
  const sy=lin(0,50,969,848);
  mk(g,'line',{x1:672,y1:848,x2:672,y2:969,stroke:'#222','stroke-width':0.8});
  mk(g,'line',{x1:672,y1:969,x2:748,y2:969,stroke:'#222','stroke-width':0.8});
  mTicks.forEach(t=>{ mk(g,'line',{x1:669,y1:sy(t),x2:672,y2:sy(t),stroke:'#222'}); txt(g,667,sy(t)+3,String(t),'end'); });
  const cols=['#1a6b3c','#e8667a'], xs=[690,723], pts=[mX1pts,mX2pts];
  mMeans.forEach((m,i)=>{
    const r=mk(g,'rect',{x:xs[i]-12,y:sy(m),width:24,height:969-sy(m),fill:cols[i]});
    
    
    mk(g,'line',{x1:xs[i],y1:sy(m+mSem[i]),x2:xs[i],y2:sy(m),stroke:'#111'});
    mk(g,'line',{x1:xs[i]-4,y1:sy(m+mSem[i]),x2:xs[i]+4,y2:sy(m+mSem[i]),stroke:'#111'});
    pts[i].forEach((v,k)=>{ const c=mk(g,'circle',{cx:xs[i]+((k%3)-1)*4,cy:sy(v),r:2,fill:'#111'});
      
       });
    const t=mk(g,'text',{x:xs[i],y:986,'font-size':8.5,'text-anchor':'middle','font-style':'italic'}); t.textContent=i?'x₂':'x₁';
  });
})();
</script>
</body></html>
